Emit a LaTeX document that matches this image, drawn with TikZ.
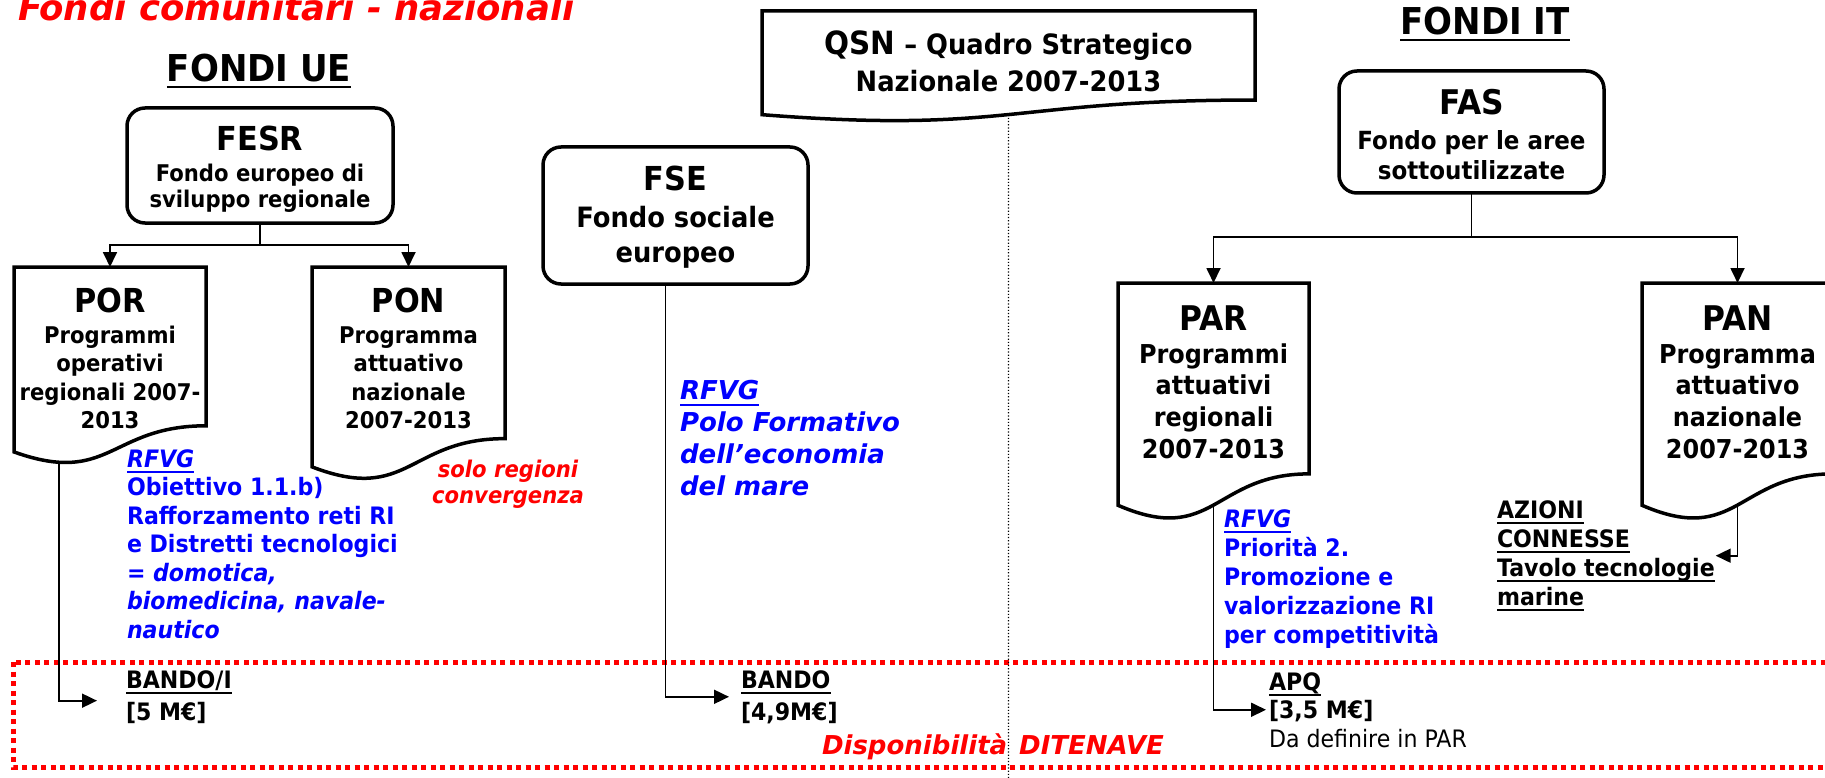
\documentclass[tikz,border=0pt]{standalone}
\usepackage{fontspec}
\setmainfont{DejaVu Sans}
\newfontfamily\tah[FakeStretch=0.92]{DejaVu Sans}
\usetikzlibrary{arrows.meta,calc}
\begin{document}
\begin{tikzpicture}[x=1pt,y=-1pt,
    box/.style={draw,line width=3.5pt,rounded corners=18pt,inner sep=0pt,outer sep=0pt,anchor=north},
    doc/.style={inner sep=0pt,outer sep=0pt,anchor=north},
    conn/.style={line width=1.8pt,-{Triangle[length=15pt,width=14pt]}},
    note/.style={anchor=base west,align=left,inner sep=0pt,outer sep=0pt},
    blu/.style={note,text=blue,font=\tah\bfseries\fontsize{24}{28.5}\selectfont}]
  \useasboundingbox (0,0) rectangle (1825,778);
  \def\und#1{\setbox0\hbox{#1}\rlap{\rule[-6.2pt]{\wd0}{2.5pt}}\box0}
  \def\dbox#1#2#3{\parbox[t][#2pt][t]{#1pt}{\centering\tah\bfseries #3}}
  \def\docline#1{\draw[line width=3.5pt,line join=miter] (#1.north west) -- (#1.north east)
      -- ($(#1.north east)!0.802!(#1.south east)$)
      .. controls ($(#1.north)!0.802!(#1.south)$) and ($(#1.north)!1.1075!(#1.south)$)
      .. ($(#1.north west)!0.934!(#1.south west)$) -- cycle;}
  % titles
  \node[note,text=red,font=\bfseries\itshape\fontsize{35.5}{36}\selectfont] (TIT) at (18,21) {Fondi comunitari - nazionali};
  \node[anchor=base,inner sep=0pt,font=\tah\bfseries\fontsize{37}{37}\selectfont] (UE) at (259,82) {\und{FONDI UE}};
  \node[anchor=base,inner sep=0pt,font=\tah\bfseries\fontsize{37}{37}\selectfont] (IT) at (1485,35) {\und{FONDI IT}};
  % fund boxes
  \node[box] (FESR) at (260,108) {\dbox{266}{115}{\fontsize{23}{26}\selectfont\rule{0pt}{43pt}{\fontsize{33}{33}\selectfont FESR}\\[5pt] Fondo europeo di\\ sviluppo regionale}};
  \node[box] (FSE) at (675.5,147) {\dbox{265}{137}{\fontsize{28}{35}\selectfont\rule{0pt}{44pt}{\fontsize{33}{33}\selectfont FSE}\\[1pt] Fondo sociale\\ europeo}};
  \node[box] (FAS) at (1471.5,71) {\dbox{265}{122}{\fontsize{25}{30}\selectfont\rule{0pt}{44pt}{\fontsize{34}{34}\selectfont FAS}\\[5pt] Fondo per le aree\\ sottoutilizzate}};
  % programme documents
  \node[doc] (QSN) at (1008.5,11) {\dbox{493}{111}{\fontsize{28}{37}\selectfont\rule{0pt}{44pt}{\fontsize{32}{32}\selectfont QSN} – Quadro Strategico\\ Nazionale 2007-2013}};
  \node[doc] (POR) at (110,267) {\dbox{192}{198}{\fontsize{23}{28.5}\selectfont\rule{0pt}{45pt}{\fontsize{33}{33}\selectfont POR}\\[2.5pt] Programmi\\ operativi\\ regionali 2007-\\ 2013}};
  \node[doc] (PON) at (408.5,267) {\dbox{193}{214}{\fontsize{23}{28.5}\selectfont\rule{0pt}{45pt}{\fontsize{33}{33}\selectfont PON}\\[2.5pt] Programma\\ attuativo\\ nazionale\\ 2007-2013}};
  \node[doc] (PAR) at (1213.5,283) {\dbox{191}{238}{\fontsize{26}{31.7}\selectfont\rule{0pt}{47pt}{\fontsize{34}{34}\selectfont PAR}\\[1.3pt] Programmi\\ attuativi\\ regionali\\ 2007-2013}};
  \node[doc] (PAN) at (1737.5,283) {\dbox{191}{238}{\fontsize{26}{31.7}\selectfont\rule{0pt}{47pt}{\fontsize{34}{34}\selectfont PAN}\\[1.3pt] Programma\\ attuativo\\ nazionale\\ 2007-2013}};
  \docline{QSN} \docline{POR} \docline{PON} \docline{PAR} \docline{PAN}
  % notes (placed at the baseline of their last line)
  \node[blu] (POR_n) at (127,638) {\textit{\und{RFVG}}\\ Obiettivo 1.1.b)\\ Rafforzamento reti RI\\ e Distretti tecnologici\\ = \textit{domotica,}\\ \textit{biomedicina, navale-}\\ \textit{nautico}};
  \node[anchor=base,align=center,inner sep=0pt,text=red,font=\tah\bfseries\itshape\fontsize{23}{26}\selectfont] (PON_n) at (508,503) {solo regioni\\ convergenza};
  \node[note,text=blue,font=\bfseries\itshape\fontsize{26}{31.7}\selectfont] (FSE_n) at (680,495) {\und{RFVG}\\ Polo Formativo\\ dell’economia\\ del mare};
  \node[blu,font=\tah\bfseries\fontsize{24}{29}\selectfont] (PAR_n) at (1224,643) {\textit{\und{RFVG}}\\ Priorità 2.\\ Promozione e\\ valorizzazione RI\\ per competitività};
  \node[note,font=\tah\bfseries\fontsize{24}{29}\selectfont] (AZ) at (1497,605) {\und{AZIONI}\\ \und{CONNESSE}\\ \und{Tavolo tecnologie}\\ \und{marine}};
  % availability
  \draw[red,line width=5pt,dash pattern=on 5pt off 4.5pt] (13,662) rectangle (1845,767);
  \node[note,font=\tah\bfseries\fontsize{24}{32}\selectfont] (BANDO_1) at (126,720) {\und{BANDO/I}\\ {[5 M€]}};
  \node[note,font=\tah\bfseries\fontsize{24}{32}\selectfont] (BANDO_2) at (741,720) {\und{BANDO}\\ {[4,9M€]}};
  \node[note,font=\tah\bfseries\fontsize{24}{28.5}\selectfont] (APQ) at (1269,747) {\und{APQ}\\ {[3,5 M€]}\\ {\mdseries Da definire in PAR}};
  \node[note,text=red,font=\bfseries\itshape\fontsize{26}{26}\selectfont] (DISP) at (822,754) {Disponibilità\hspace{12pt}DITENAVE};
  % connectors
  \coordinate (POR_f) at ([xshift=-51pt,yshift=-195pt]POR.north);
  \coordinate (PAR_f) at ($(PAR.north)!0.933!(PAR.south)$);
  \coordinate (PAN_f) at ($(PAN.north)!0.933!(PAN.south)$);
  \coordinate (QSN_f) at ($(QSN.north)!0.933!(QSN.south)$);
  \coordinate (BOT) at (1008.5,778);
  \draw[conn] (FESR.south) -- ++(0,22) -| (POR.north);
  \draw[conn] (FESR.south) -- ++(0,22) -| (PON.north);
  \draw[conn] (FAS.south) -- ++(0,44) -| (PAR.north);
  \draw[conn] (FAS.south) -- ++(0,44) -| (PAN.north);
  \draw[conn] (POR_f) |- ([xshift=-29pt,yshift=-4pt]BANDO_1.west);
  \draw[conn] ([xshift=-10pt]FSE.south) |- ([xshift=-12pt]BANDO_2.west);
  \draw[conn] (PAR_f) |- ([xshift=-3pt]APQ.west);
  \draw[conn] (PAN_f) |- ([xshift=1pt]AZ.east);
  \draw[dotted,line width=1.2pt] (QSN_f) -- (BOT);
\end{tikzpicture}
\end{document}
